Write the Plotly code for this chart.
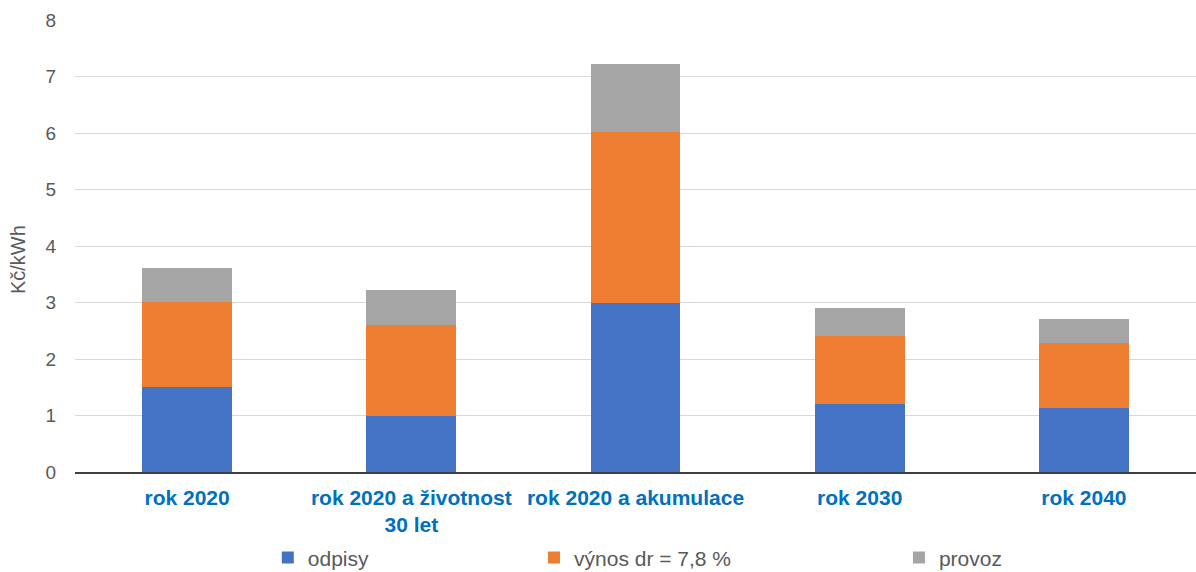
import plotly.graph_objects as go

categories = ["rok 2020", "rok 2020 a životnost<br>30 let", "rok 2020 a akumulace", "rok 2030", "rok 2040"]
odpisy = [1.50, 1.00, 3.00, 1.21, 1.13]
vynos = [1.51, 1.60, 3.02, 1.20, 1.15]
provoz = [0.60, 0.62, 1.20, 0.49, 0.43]

series = [
    ("odpisy", odpisy, "#4472C4", "legend", 0.172),
    ("výnos dr = 7,8 %", vynos, "#ED7D31", "legend2", 0.4095),
    ("provoz", provoz, "#A5A5A5", "legend3", 0.735),
]

fig = go.Figure()
for name, vals, color, leg, _ in series:
    fig.add_trace(go.Bar(
        x=categories, y=vals, name=name, legend=leg,
        marker=dict(color=color, line=dict(width=0)),
        width=0.4,
    ))

font_family = "Liberation Sans, Arial, sans-serif"
legend_common = dict(
    orientation="h", yanchor="middle", y=-0.19, xanchor="left",
    font=dict(family=font_family, size=21, color="#595959"),
    itemwidth=30, bgcolor="rgba(0,0,0,0)", itemclick=False,
)

layout_legends = {}
for name, vals, color, leg, xpos in series:
    layout_legends[leg] = dict(legend_common, x=xpos)

fig.update_layout(
    barmode="stack",
    width=1196, height=572,
    margin=dict(l=75, r=0, t=20, b=100, autoexpand=False),
    plot_bgcolor="white", paper_bgcolor="white",
    font=dict(family=font_family, color="#595959"),
    showlegend=True,
    **layout_legends,
)

# vertical unit label beside the value axis
fig.add_annotation(
    text="Kč/kWh", textangle=-90,
    xref="paper", yref="paper", x=-0.0508, y=0.469,
    xanchor="center", yanchor="middle", showarrow=False,
    font=dict(family=font_family, size=20, color="#595959"),
)

fig.update_yaxes(
    range=[0, 8], dtick=1,
    showgrid=True, gridcolor="#D9D9D9", gridwidth=1,
    zeroline=False, showline=False,
    tickfont=dict(size=19, color="#595959"),
    ticks="", ticklabelstandoff=18,
)
fig.update_xaxes(
    showline=True, linecolor="#404040", linewidth=1.5,
    tickfont=dict(size=21, color="#0070C0", weight="bold"),
    ticks="", ticklabelstandoff=6,
)

fig.write_html("out.html")
